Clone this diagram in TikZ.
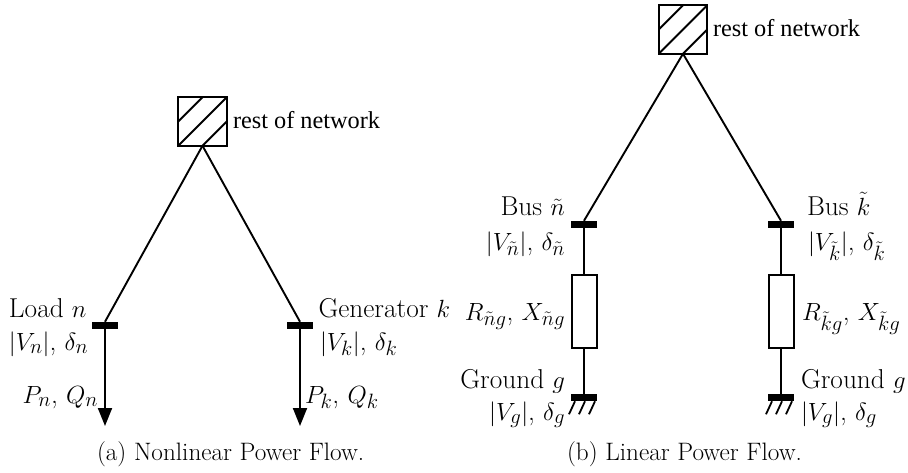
\documentclass[tikz,border=0pt]{standalone}
\usepackage{fontspec}
\newfontfamily\timesfont{Liberation Serif}
\usetikzlibrary{arrows.meta,calc}
\tikzset{
  x=1pt,y=-1pt,
  busbar/.style={draw=none,fill=black,minimum width=26pt,minimum height=7.5pt,inner sep=0pt,outer sep=0pt,rectangle},
  netbox/.style={draw=black,line width=1.8pt,fill=white,minimum width=48.5pt,minimum height=48.5pt,inner sep=0pt,outer sep=0pt,rectangle},
  imped/.style={draw=black,line width=2pt,fill=white,minimum width=25pt,minimum height=73pt,inner sep=0pt,outer sep=0pt,rectangle},
  wire/.style={line width=1.9pt,black},
  flow/.style={line width=1.9pt,black,-{Triangle[length=18pt,width=14pt]}},
  hatchline/.style={line width=1.8pt,black},
  lab/.style={inner sep=0pt,outer sep=0pt,font=\fontsize{27.3}{30}\selectfont,align=left},
  labr/.style={inner sep=0pt,outer sep=0pt,font=\fontsize{27.3}{30}\selectfont,align=right},
  caplab/.style={inner sep=0pt,outer sep=0pt,font=\fontsize{25.2}{28}\selectfont,align=left},
  netlab/.style={inner sep=0pt,outer sep=0pt,font=\timesfont\fontsize{24.3}{27}\selectfont},
}
\newcommand{\netboxdraw}[3]{%
  \node[netbox] (#1) at (#2,#3) {};
  \draw[hatchline] (#1.south west) -- (#1.north east);
  \draw[hatchline] (#1.west) -- (#1.north);
  \draw[hatchline] (#1.south) -- (#1.east);
}
\begin{document}
\begin{tikzpicture}
\useasboundingbox (0,0) rectangle (908,472);
% (a)
\netboxdraw{neta}{202.5}{121.5}
\node[netlab,anchor=base west] (resta) at (233,128) {rest of network};
\node[busbar] (busn) at (105,325.5) {};
\node[busbar] (busk) at (300,325.5) {};
\coordinate (endn) at (105,426);
\coordinate (endk) at (300,426);
\draw[wire] (neta.south) -- (busn.north);
\draw[wire] (neta.south) -- (busk.north);
\draw[flow] (busn.south) -- (endn);
\draw[flow] (busk.south) -- (endk);
\node[labr,anchor=base west] (ln) at (9,317) {Load $n$};
\node[labr,anchor=base west] (lnv) at (9,350) {$|V_n|$, $\delta_n$};
\node[lab,anchor=base west] (lk) at (318.5,317) {Generator $k$};
\node[lab,anchor=base west] (lkv) at (320,350) {$|V_k|$, $\delta_k$};
\node[labr,anchor=base east] (pn) at (98,403) {$P_n$, $Q_n$};
\node[lab,anchor=base west] (pk) at (305,403) {$P_k$, $Q_k$};
\node[caplab,anchor=base west] (capa) at (97,460) {(a) Nonlinear Power Flow.};
% (b)
\netboxdraw{netb}{683}{29.5}
\node[netlab,anchor=base west] (restb) at (713,36) {rest of network};
\node[busbar] (busnt) at (584,224.5) {};
\node[busbar] (buskt) at (781,224.5) {};
\node[imped] (zn) at (584,311) {};
\node[imped] (zk) at (781,311) {};
\node[busbar] (gn) at (584,397.5) {};
\node[busbar] (gk) at (781,397.5) {};
\draw[wire] (netb.south) -- (busnt.north);
\draw[wire] (netb.south) -- (buskt.north);
\draw[wire] (busnt.south) -- (zn.north);
\draw[wire] (buskt.south) -- (zk.north);
\draw[wire] (zn.south) -- (gn.north);
\draw[wire] (zk.south) -- (gk.north);
\foreach \d in {0,10,20}{
  \draw[hatchline] ($(gn.south west)+(\d+4,0)$) -- +(-6,13);
  \draw[hatchline] ($(gk.south west)+(\d+4,0)$) -- +(-6,13);
}
\node[labr,anchor=base east] (lnt) at (565,215) {Bus $\tilde n$};
\node[labr,anchor=base east] (lntv) at (565,250) {$|V_{\tilde n}|$, $\delta_{\tilde n}$};
\node[lab,anchor=base west] (lkt) at (807,215) {Bus $\tilde k$};
\node[lab,anchor=base west] (lktv) at (808,250) {$|V_{\tilde k}|$, $\delta_{\tilde k}$};
\node[labr,anchor=base east] (rn) at (565,320) {$R_{\tilde n g}$, $X_{\tilde n g}$};
\node[lab,anchor=base west] (rk) at (802,320) {$R_{\tilde k g}$, $X_{\tilde k g}$};
\node[labr,anchor=base east] (gnl) at (565,388) {Ground $g$};
\node[labr,anchor=base east] (gnv) at (565,420) {$|V_g|$, $\delta_g$};
\node[lab,anchor=base west] (gkl) at (801,388) {Ground $g$};
\node[lab,anchor=base west] (gkv) at (801,420) {$|V_g|$, $\delta_g$};
\node[caplab,anchor=base west] (capb) at (567,460) {(b) Linear Power Flow.};
\end{tikzpicture}
\end{document}
